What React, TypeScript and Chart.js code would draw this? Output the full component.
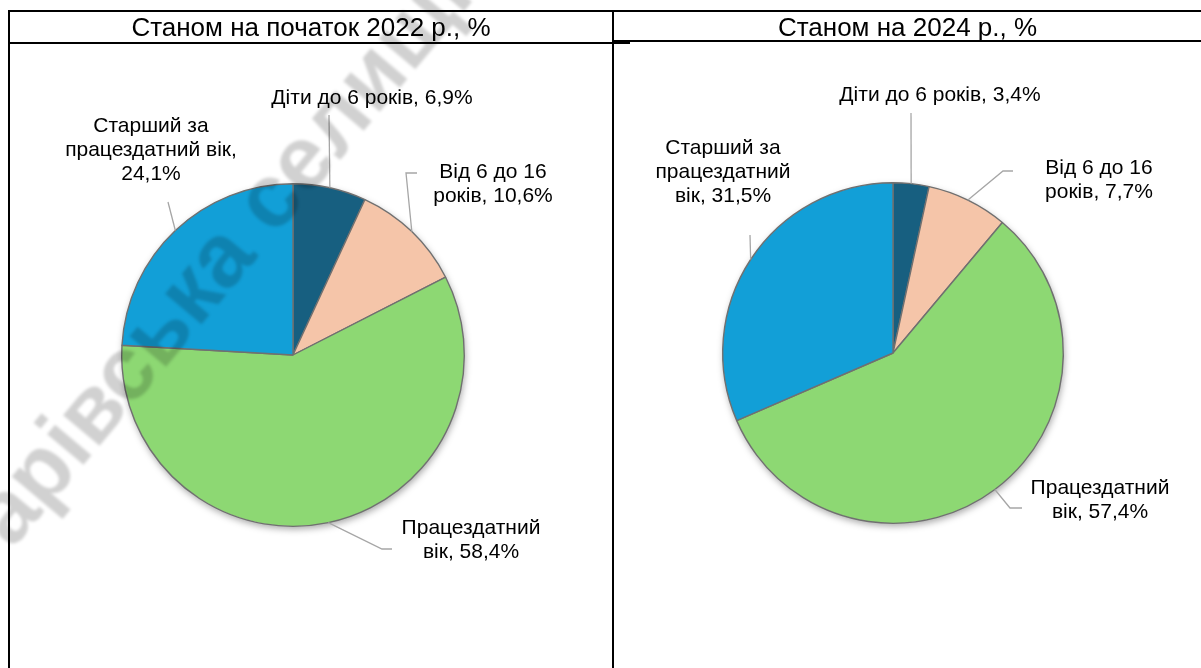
import React, { useEffect, useRef } from "react";
import { Chart, registerables } from "chart.js";

Chart.register(...registerables);

// ---------- data ----------
const categories = ["Діти до 6 років", "Від 6 до 16 років", "Працездатний вік", "Старший за працездатний вік"];
const values2022 = [6.9, 10.6, 58.4, 24.1];
const values2024 = [3.4, 7.7, 57.4, 31.5];
const titles = ["Станом на початок 2022 р., %", "Станом на 2024 р., %"];
const watermarkText = "арівська селищна";

// ---------- styles / layout ----------
const colors = ["#175F80", "#F5C5A9", "#8DD873", "#129FD7"];
const FONT = "'Liberation Sans', Arial, sans-serif";
const LABEL_SIZE = 21;
const LINE_H = 24;

// pie placement in page px: center and radius
const pieLayouts = [
  { cx: 293, cy: 355, r: 172 },
  { cx: 893, cy: 353, r: 171 },
];

// label layout: words per line, first line center offset from pie center, leader path points
const labelLayouts = [
  [
    { lines: [6], text: [79, -257], path: [[36, -240]] },
    { lines: [4, 2], text: [200, -183], path: [[113, -182], [124, -182]] },
    { lines: [1, 2], text: [178, 173], path: [[89, 194], [99, 194]] },
    { lines: [2, 2, 1], text: [-142, -229], path: [[-125, -153]] },
  ],
  [
    { lines: [6], text: [47, -258], path: [[18, -240]] },
    { lines: [4, 2], text: [206, -185], path: [[110, -182], [120, -182]] },
    { lines: [1, 2], text: [207, 135], path: [[117, 155], [129, 155]] },
    { lines: [2, 1, 2], text: [-170, -205], path: [[-143, -118]] },
  ],
];

const fmt = (v: number) => v.toFixed(1).replace(".", ",") + "%";

function wrap(text: string, counts: number[]) {
  const words = text.split(" ");
  const out: string[] = [];
  let i = 0;
  for (const c of counts) {
    out.push(words.slice(i, i + c).join(" "));
    i += c;
  }
  return out;
}

function makeChart(canvas: HTMLCanvasElement, values: number[], idx: number, watermark: boolean) {
  const pl = pieLayouts[idx];
  const W = 1201, H = 668;
  const shadowPlugin = {
    id: "pieShadow" + idx,
    beforeDatasetsDraw(chart: any) {
      const arc = chart.getDatasetMeta(0).data[0];
      if (!arc) return;
      const { x, y, outerRadius } = arc.getProps(["x", "y", "outerRadius"], true);
      const ctx = chart.ctx;
      ctx.save();
      ctx.shadowColor = "rgba(0,0,0,0.35)";
      ctx.shadowBlur = 7;
      ctx.shadowOffsetX = 1;
      ctx.shadowOffsetY = 3;
      ctx.fillStyle = "#ffffff";
      ctx.beginPath();
      ctx.arc(x, y, outerRadius, 0, Math.PI * 2);
      ctx.fill();
      ctx.restore();
    },
  };
  const labelPlugin = {
    id: "pieLabels" + idx,
    afterDraw(chart: any) {
      const ctx = chart.ctx;
      const meta = chart.getDatasetMeta(0);
      const lay = labelLayouts[idx];
      meta.data.forEach((arc: any, i: number) => {
        const { x, y, startAngle, endAngle, outerRadius } = arc.getProps(
          ["x", "y", "startAngle", "endAngle", "outerRadius"],
          true
        );
        const mid = (startAngle + endAngle) / 2;
        const ex = x + Math.cos(mid) * outerRadius;
        const ey = y + Math.sin(mid) * outerRadius;
        const L = lay[i];
        ctx.save();
        ctx.strokeStyle = "#A6A6A6";
        ctx.lineWidth = 1.3;
        ctx.beginPath();
        ctx.moveTo(ex, ey);
        L.path.forEach((p: number[]) => ctx.lineTo(x + p[0], y + p[1]));
        ctx.stroke();
        const text = `${chart.data.labels[i]}, ${fmt(chart.data.datasets[0].data[i])}`;
        const lines = wrap(text, L.lines);
        ctx.fillStyle = "#000000";
        ctx.font = `${LABEL_SIZE}px ${FONT}`;
        ctx.textAlign = "center";
        ctx.textBaseline = "middle";
        lines.forEach((ln, k) => ctx.fillText(ln, x + L.text[0], y + L.text[1] + k * LINE_H));
        ctx.restore();
      });
      if (watermark) {
        ctx.save();
        ctx.translate(12, 550);
        ctx.rotate((-50 * Math.PI) / 180);
        ctx.filter = "blur(1.8px)";
        ctx.fillStyle = "rgba(0,0,0,0.18)";
        ctx.font = `bold 90px ${FONT}`;
        ctx.textBaseline = "alphabetic";
        ctx.fillText(watermarkText, 0, 0);
        ctx.restore();
      }
    },
  };
  return new Chart(canvas, {
    type: "pie",
    data: {
      labels: categories,
      datasets: [
        {
          data: values,
          backgroundColor: colors,
          borderColor: "#707070",
          borderWidth: 1.4,
        },
      ],
    },
    options: {
      responsive: false,
      animation: false,
      devicePixelRatio: 1,
      layout: {
        padding: {
          left: pl.cx - pl.r,
          right: W - (pl.cx + pl.r),
          top: pl.cy - pl.r,
          bottom: H - (pl.cy + pl.r),
        },
      },
      plugins: {
        legend: { display: false },
        tooltip: { enabled: false },
        title: { display: false },
      },
    },
    plugins: [shadowPlugin, labelPlugin],
  });
}

export default function App() {
  const ref1 = useRef<HTMLCanvasElement>(null);
  const ref2 = useRef<HTMLCanvasElement>(null);
  useEffect(() => {
    document.body.style.margin = "0";
    const c1 = makeChart(ref1.current!, values2022, 0, true);
    const c2 = makeChart(ref2.current!, values2024, 1, false);
    return () => {
      c1.destroy();
      c2.destroy();
    };
  }, []);

  const line = (l: number, t: number, w: number, h: number) => (
    <div style={{ position: "absolute", left: l, top: t, width: w, height: h, background: "#000" }} />
  );
  const titleStyle = (l: number, w: number): React.CSSProperties => ({
    position: "absolute",
    left: l,
    top: 12,
    width: w,
    height: 30,
    lineHeight: "30px",
    textAlign: "center",
    fontFamily: FONT,
    fontSize: 26,
    color: "#000",
  });

  return (
    <div style={{ position: "fixed", left: 0, top: 0, width: 1201, height: 668, background: "#fff", overflow: "hidden" }}>
      <canvas ref={ref2} width={1201} height={668} style={{ position: "absolute", left: 0, top: 0 }} />
      <canvas ref={ref1} width={1201} height={668} style={{ position: "absolute", left: 0, top: 0 }} />
      <div style={titleStyle(10, 602)}>{titles[0]}</div>
      <div style={titleStyle(614, 587)}>{titles[1]}</div>
      {line(8, 10, 1193, 2)}
      {line(8, 10, 2, 658)}
      {line(612, 10, 2, 658)}
      {line(8, 42, 622, 2)}
      {line(612, 40, 589, 2)}
    </div>
  );
}
